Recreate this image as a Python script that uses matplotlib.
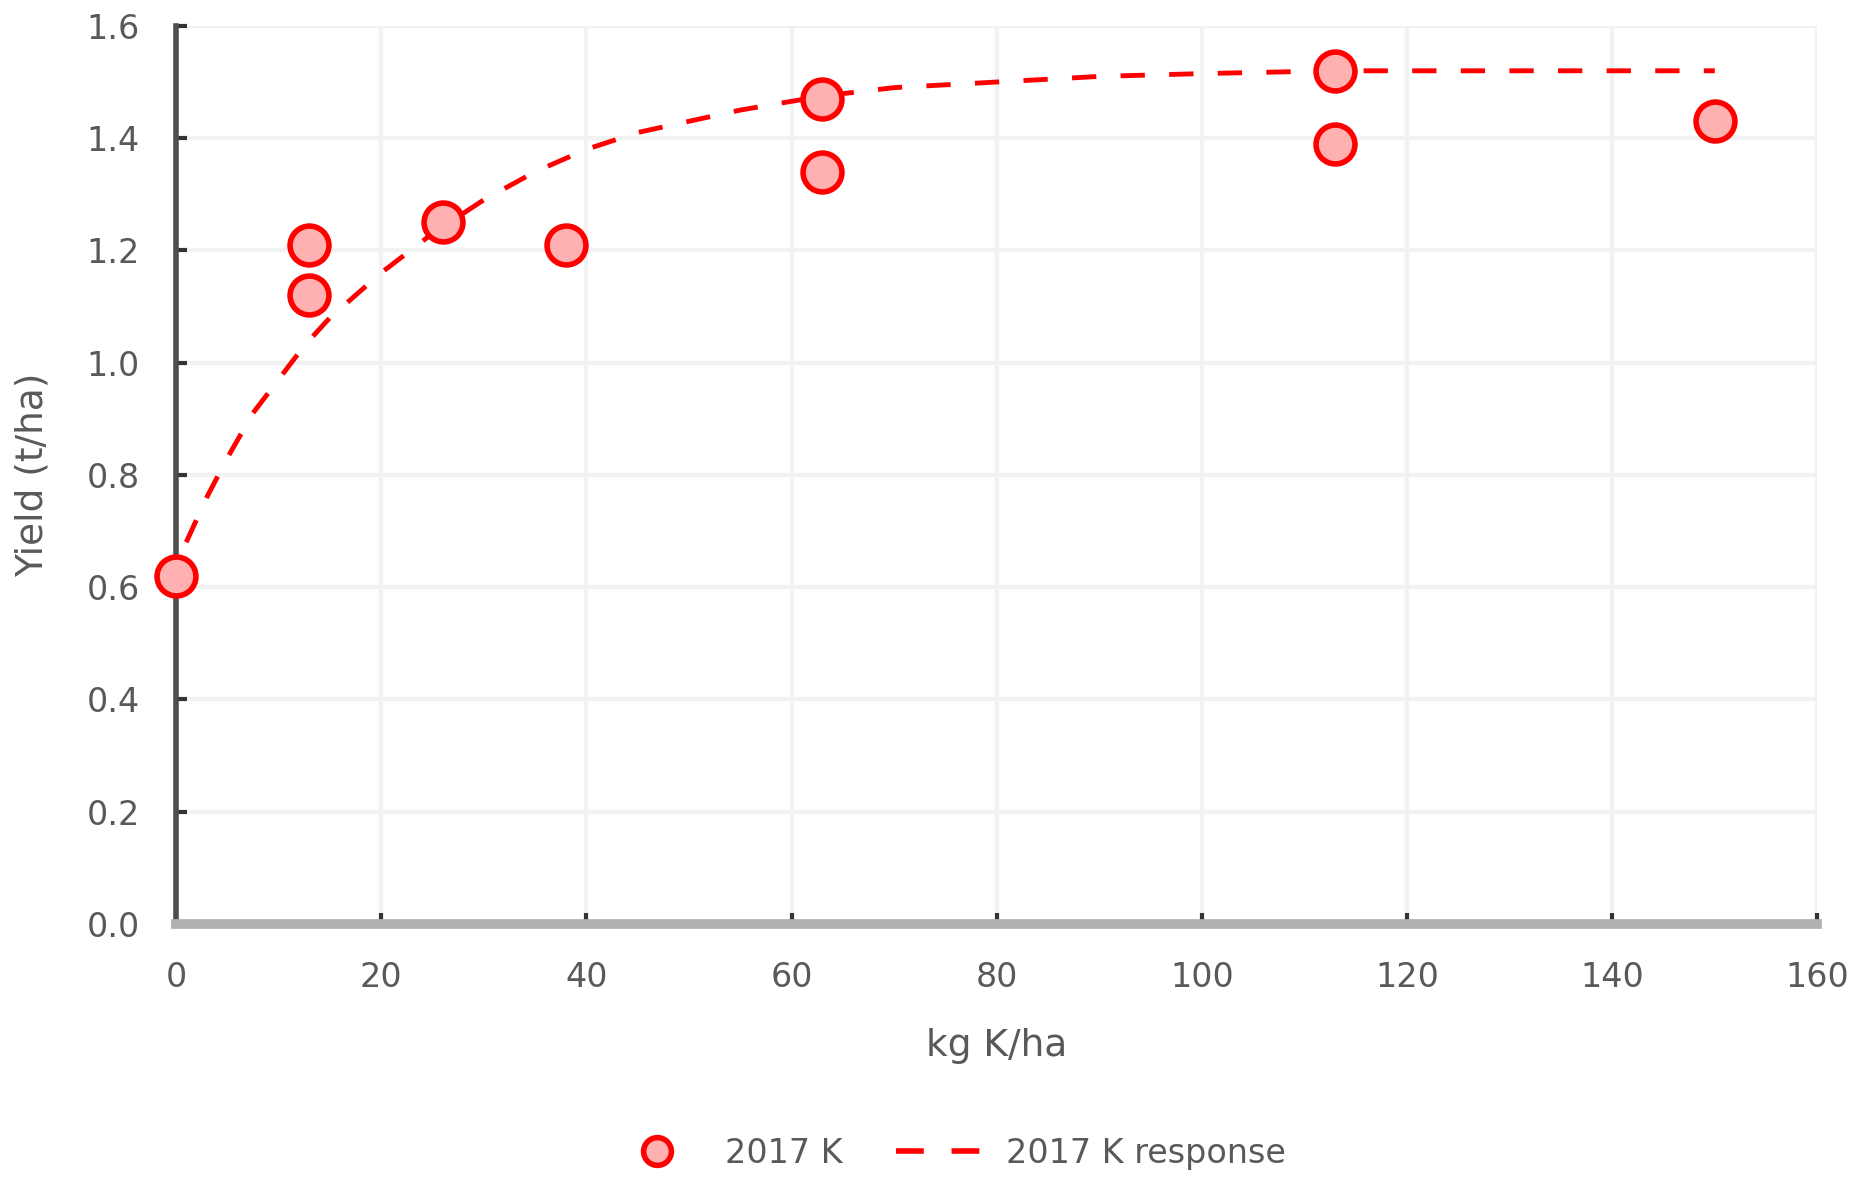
import numpy as np
import matplotlib.pyplot as plt
from matplotlib.lines import Line2D

# potassium rate (kg K/ha) and measured yield (t/ha), 2017
k_rate = [0, 13, 13, 26, 38, 63, 63, 113, 113, 150]
yield_2017 = [0.62, 1.21, 1.12, 1.25, 1.21, 1.47, 1.34, 1.52, 1.39, 1.43]

# fitted response curve
resp_x = [1, 3, 5, 7.5, 10, 12.5, 15, 17.5, 20, 25, 30, 35, 40, 45, 50, 55, 63,
          70, 80, 90, 100, 113, 130, 150]
resp_y = [0.68, 0.76, 0.83, 0.91, 0.97, 1.03, 1.08, 1.12, 1.16, 1.23, 1.29, 1.34,
          1.38, 1.41, 1.43, 1.45, 1.475, 1.49, 1.50, 1.51, 1.515, 1.52, 1.52, 1.52]

TEXT = "#595959"

fig = plt.figure(figsize=(18.64, 11.77), dpi=100)
ax = fig.add_axes([0.0944, 0.215, 0.8806, 0.763])

ax.plot(resp_x, resp_y, color="red", lw=3.5, dashes=(5, 5), zorder=2)
ax.plot(k_rate, yield_2017, "o", ms=28, mfc="#ffb0b0", mec="red", mew=4,
        ls="none", zorder=3, clip_on=False)

ax.set_xlim(0, 160)
ax.set_ylim(0, 1.6)
ax.set_xticks(np.arange(0, 161, 20))
ax.set_yticks(np.arange(0, 1.61, 0.2))
ax.set_yticklabels([f"{v:.1f}" for v in np.arange(0, 1.61, 0.2)])

ax.grid(True, color="#f2f2f2", lw=3)
ax.set_axisbelow(True)
for s in ["top", "right"]:
    ax.spines[s].set_visible(False)
ax.spines["left"].set_color("#4d4d4d")
ax.spines["left"].set_linewidth(4)
ax.spines["bottom"].set_color("#b0b0b0")
ax.spines["bottom"].set_linewidth(7)

ax.tick_params(axis="y", direction="in", length=8, width=3, color="#333333",
               labelsize=24, labelcolor=TEXT, pad=26)
ax.tick_params(axis="x", direction="in", length=8, width=3, color="#333333",
               labelsize=24, labelcolor=TEXT, pad=27)

ax.set_xlabel("kg K/ha", fontsize=27, color=TEXT, labelpad=24)
ax.set_ylabel("Yield (t/ha)", fontsize=27, color=TEXT, labelpad=26)

handles = [
    Line2D([], [], marker="o", ms=20, mfc="#ffb0b0", mec="red", mew=4, ls="none"),
    Line2D([], [], color="red", lw=4, dashes=(5, 5)),
]
fig.legend(handles, ["2017 K", "2017 K response"], loc="center",
           bbox_to_anchor=(0.51, 0.02), ncol=2, frameon=False,
           fontsize=24, labelcolor=TEXT, handlelength=2.5, columnspacing=1.6,
           handletextpad=0.8)

fig.savefig("out.png", dpi=100)
